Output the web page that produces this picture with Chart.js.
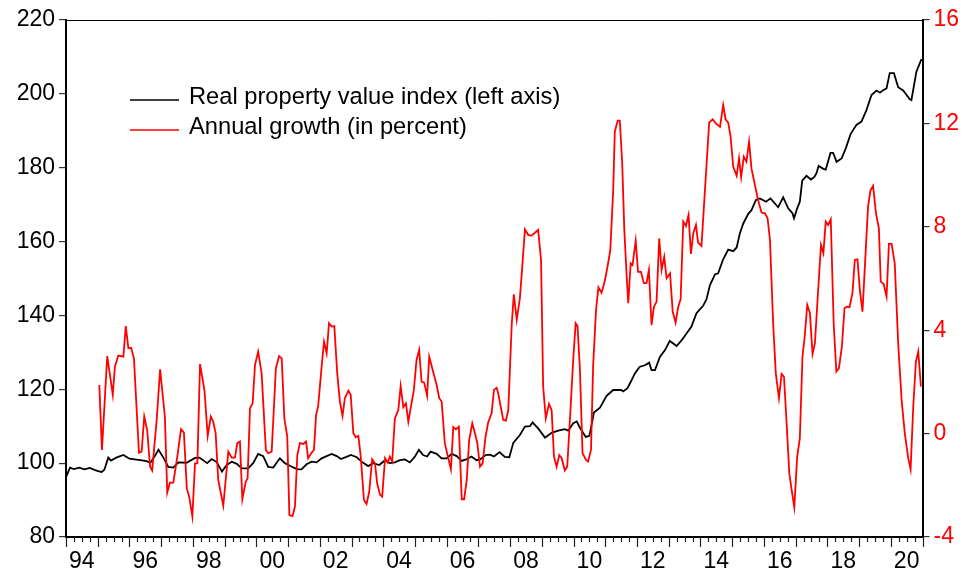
<!DOCTYPE html>
<html>
<head>
<meta charset="utf-8">
<script src="https://cdn.jsdelivr.net/npm/chart.js@4.4.1/dist/chart.umd.min.js"></script>
<style>
html,body{margin:0;padding:0;background:#ffffff;}
canvas{display:block;}
</style>
</head>
<body>
<canvas id="chart" width="968" height="573"></canvas>
<script>
// ---- Data (months counted from January 1994) ----
const indexMonths = [0,1.5,3,5,7,9,11,12.5,13.5,14.5,16,17,19,21.7,24,28,30,32,33.5,35,37,38.7,40.6,42.5,45.6,48.8,50.5,53.4,55.1,57,59,60.8,62.7,64.6,66.5,68.9,70.8,72.7,74.6,76.5,78.4,80.9,82.8,84.7,87.3,89.1,91,92.9,94.8,96.7,98.6,100.5,102.4,104,106.8,107.8,110,111.8,114.3,116.2,118.5,120.7,122.5,124.4,126.3,128.2,130.1,132,133.5,135.1,136.6,137.9,140.2,142.1,144,145.9,147.8,149.7,151.6,153.4,155.3,156.6,158.8,160.4,161.9,164,166,167.7,169.2,171.7,173.6,175.5,176.5,178.6,181.2,183.7,186.2,188.7,190,191.9,193.2,194.4,196.6,198,199.7,202,204.5,207,210,210.8,212.4,213.7,215.2,216.5,217.1,219,220.6,221.5,222.8,224.7,226.6,228.4,231,232.9,234.8,236.6,238.5,241,242.3,243.6,245.5,246.7,248.6,250.5,252.4,253.7,254.9,256.2,258.1,259.3,261,262.5,264.8,266.5,269.4,271.3,273.2,274.8,275.4,276.6,277.6,278.5,280.1,281.8,283.1,283.9,284.7,286.5,287.4,289.2,290.2,291.5,293.4,295,296.8,299,300.9,302.8,304.7,306.6,307.9,309.1,310.4,311.6,313.2,314.8,316.7,319.2,319.8,321.7,323.6];
const indexValues = [96.2,98.8,98.4,98.8,98.3,98.7,98.1,97.8,97.6,98.2,101.5,100.7,101.5,102.2,101.2,100.8,100.6,100.2,101.8,103.6,101.3,99.0,98.8,100.2,100.1,101.4,101.5,100.0,101.1,100.3,97.7,99.5,100.4,99.8,98.6,98.6,100.0,102.5,101.9,99.0,98.8,101.3,100.0,99.3,98.4,98.3,99.7,100.4,100.2,101.3,101.9,102.5,101.9,101.1,101.9,102.2,101.6,100.4,99.2,100.0,99.5,100.8,100.0,100.2,100.8,101.0,100.2,101.8,103.6,102.2,101.8,103.1,102.5,101.3,101.3,102.5,101.9,100.6,101.1,101.8,100.8,101.0,102.2,102.3,101.8,103.0,101.7,101.6,105.5,107.6,109.9,110.0,111.0,109.4,106.9,108.2,108.8,109.2,108.8,110.8,111.3,109.6,107.1,107.4,113.7,115.0,118.2,119.8,119.8,119.4,120.3,122.1,124.3,125.6,126.1,126.5,127.2,125.2,125.2,128.8,130.6,133.1,131.7,133.3,135.2,137.0,140.6,142.6,144.4,148.2,151.1,151.4,155.2,157.8,157.4,158.4,162.2,164.9,167.5,168.5,171.3,171.7,170.8,171.7,169.3,172.0,169.0,167.7,166.3,169.0,170.8,176.5,177.8,176.8,177.5,178.5,180.5,179.7,179.5,184.0,184.0,181.6,182.5,185.3,189.1,191.6,192.5,195.6,199.7,200.9,200.3,201.0,201.5,205.6,205.6,201.8,200.9,198.5,198.3,206.0,209.4];

const growthMonths = [12.6,13.6,15.6,17.7,18.5,19.8,21.7,22.6,23.6,24.6,25.7,27.6,28.6,29.6,30.7,31.8,32.6,34.3,35.6,37.4,38.3,39.3,40.6,42.1,43.5,44.6,45.7,46.6,47.8,48.8,49.7,50.7,52.4,53.6,54.8,55.7,56.6,57.6,59.5,61.4,62.7,63.9,64.8,65.8,66.7,68,68.7,69.6,70.6,71.5,72.7,74,75.6,76.5,77.8,79.4,80.6,81.6,82.6,83.7,84.5,85.7,86.6,87.5,88.5,89.8,90.8,91.6,92.9,93.8,94.6,95.4,96.7,97.6,98.6,99.5,100.5,101.5,102.6,103.6,104.6,105.5,106.8,107.7,108.7,109.6,110.6,111.5,112.7,113.7,114.7,115.8,116.9,117.7,118.8,119.6,120.7,121.7,122.5,123.4,124.4,125.7,126.6,127.6,128.6,129.5,130.7,131.6,132.6,133.6,134.5,135.5,136.6,137.4,138.7,140.2,141.2,142.1,143.3,144.6,145.6,146.5,147.5,148.6,149.7,150.6,151.6,152.5,153.7,154.7,155.6,156.6,157.6,158.7,159.7,161,161.9,162.9,163.5,165.4,166.4,167.3,168.6,169.4,170.5,171.7,172.6,173.6,174.9,176.1,177.4,178.6,179.7,180.5,181.5,182.7,183.7,184.6,185.6,186.6,187.5,188.7,189.6,190.9,191.9,192.8,193.5,194.4,195.4,196.7,197.5,198.6,199.4,200.5,201.4,202.6,203.9,205,205.9,207,207.6,208.7,209.5,210.4,211.2,212.1,212.7,213.6,214.3,215.5,216.4,217.5,218.6,219.6,220.5,221.5,222.4,223.4,224.4,225.3,226.3,227.2,228.5,229.5,230.6,231.6,232.5,233.5,234.5,235.5,236.4,237.3,238.3,239.1,240.4,241.7,243.3,244.6,245.8,247.4,248.6,249.5,250.5,251.4,252.4,253.7,254.6,255.4,256.4,257.4,258.4,259.3,260.6,261.8,263.1,264.4,265.4,266.3,267.5,268.5,269.7,270.7,271.6,272.6,273.6,274.5,275.5,276.6,277.6,278.6,279.5,280.4,281.4,282.4,283.3,284.5,285.6,286.5,287.4,288.3,289.3,290.4,291.4,292.4,293.5,294.5,295.4,296.4,297.5,298.4,299.4,300.3,301.3,302.2,303.4,304.3,305.3,306.4,307.5,308.2,309.3,310.4,311.3,312.3,313.5,314.8,316.1,317.3,318.6,319.5,320.5,321.5,322.4,323.4];
const growthValues = [1.88,-0.63,3.0,1.5,2.59,3.02,2.98,4.16,3.30,3.32,2.91,-0.74,-0.70,0.66,0.14,-1.28,-1.43,0.53,2.49,0.66,-2.28,-1.90,-1.90,-0.89,0.17,0.04,-2.12,-2.44,-3.21,-1.15,-1.15,2.69,1.65,-0.09,0.66,0.46,0.02,-1.79,-2.79,-0.70,-0.93,-0.93,-0.37,-0.31,-2.54,-1.86,-1.73,0.98,1.17,2.66,3.17,2.33,-0.63,-0.76,-0.70,2.53,3.00,2.91,0.59,-0.12,-3.15,-3.19,-2.83,-0.83,-0.37,-0.40,-0.31,-0.95,-0.74,-0.63,0.72,1.07,2.59,3.56,3.11,4.27,4.14,4.16,2.33,1.25,0.68,1.37,1.66,1.50,0.01,-0.14,-0.09,-0.89,-2.57,-2.72,-2.25,-0.99,-1.15,-1.92,-2.37,-2.44,-0.95,-1.12,-0.89,-1.08,0.59,0.91,1.84,1.02,1.17,0.46,1.17,1.69,2.85,3.24,2.01,1.97,1.46,2.98,2.46,1.88,1.37,1.24,-0.37,-0.95,-1.38,0.25,0.17,0.27,-2.54,-2.54,-1.79,-0.25,0.40,0.01,-0.37,-1.28,-1.15,-0.12,0.43,0.79,1.69,1.77,1.56,0.53,0.50,0.91,4.20,5.39,4.40,5.24,6.46,7.90,7.68,7.66,7.77,7.88,6.72,1.82,0.59,1.15,0.91,-0.89,-1.28,-0.83,-0.95,-1.43,-1.28,1.04,2.91,4.27,4.16,2.5,-0.76,-1.02,-1.08,-0.63,2.6,4.78,5.66,5.45,5.94,6.55,7.10,9.42,11.68,12.11,12.11,10.46,7.88,6.07,5.04,6.59,6.52,7.46,6.26,6.26,5.82,5.82,6.33,4.20,4.91,5.10,7.55,6.33,6.84,6.01,6.20,4.72,4.29,4.91,5.20,8.20,8.03,8.46,6.95,7.75,8.07,7.39,7.26,9.42,12.03,12.16,12.00,11.87,12.71,12.16,12.03,11.49,10.33,9.97,10.65,9.92,10.71,10.52,11.29,10.26,9.62,9.04,8.55,8.52,8.33,7.49,4.27,2.33,1.37,2.31,2.20,0.40,-1.53,-2.18,-2.85,-0.89,-0.18,2.98,3.82,4.98,4.68,3.08,3.49,5.50,7.30,6.98,8.20,8.07,8.29,4.27,2.40,2.53,3.36,4.85,4.91,4.89,5.43,6.72,6.74,5.56,4.72,6.46,8.78,9.40,9.58,8.52,7.94,5.88,5.79,5.30,7.34,7.34,6.59,3.49,1.30,0.01,-0.95,-1.38,1.04,2.78,3.17,1.82];

const seriesLabels = ['Real property value index (left axis)', 'Annual growth (in percent)'];
const leftTicks = [80, 100, 120, 140, 160, 180, 200, 220];
const rightTicks = [-4, 0, 4, 8, 12, 16];
const xTickLabels = ['94','96','98','00','02','04','06','08','10','12','14','16','18','20'];
const monthsTotal = 324;

// ---- Styling ----
const FONT = '"Liberation Sans", Arial, sans-serif';
const FSIZE = 23;
const LEGEND_FSIZE = 23.7;
const RED = '#ff0000';
const BLACK = '#000000';

const pairs = (xs, ys) => xs.map((x, i) => ({x: x, y: ys[i]}));

const frameAndTicks = {
  id: 'frameAndTicks',
  afterDraw(chart) {
    const {ctx, chartArea: a, scales} = chart;
    ctx.save();
    // top border
    ctx.strokeStyle = BLACK;
    ctx.lineWidth = 1;
    ctx.beginPath();
    ctx.moveTo(a.left, a.top + 0.5);
    ctx.lineTo(a.right, a.top + 0.5);
    ctx.stroke();
    // x-axis tick marks: quarters (minor) and years (major)
    const xs = scales.x;
    ctx.strokeStyle = '#222';
    ctx.lineWidth = 1.2;
    for (let m = 0; m <= monthsTotal; m += 3) {
      const px = Math.round(xs.getPixelForValue(m)) + 0.5;
      const len = (m % 12 === 0) ? 10 : 5;
      ctx.beginPath();
      ctx.moveTo(px, a.bottom);
      ctx.lineTo(px, a.bottom + len);
      ctx.stroke();
    }
    // legend (inside plot area)
    ctx.font = LEGEND_FSIZE + 'px ' + FONT;
    ctx.textBaseline = 'middle';
    ctx.textAlign = 'left';
    chart.data.datasets.forEach((ds, i) => {
      const y = a.top + 77 + i * 30;
      ctx.strokeStyle = ds.borderColor;
      ctx.lineWidth = 1.6;
      ctx.beginPath();
      ctx.moveTo(a.left + 64, y + 3);
      ctx.lineTo(a.left + 113, y + 3);
      ctx.stroke();
      ctx.fillStyle = BLACK;
      ctx.fillText(ds.label, a.left + 123, y);
    });
    ctx.restore();
  }
};

new Chart(document.getElementById('chart'), {
  type: 'line',
  data: {
    datasets: [
      {
        label: seriesLabels[0],
        data: pairs(indexMonths, indexValues),
        yAxisID: 'y',
        borderColor: BLACK,
        borderWidth: 1.8,
        pointRadius: 0,
        tension: 0,
        fill: false,
        order: 1
      },
      {
        label: seriesLabels[1],
        data: pairs(growthMonths, growthValues),
        yAxisID: 'y1',
        borderColor: RED,
        borderWidth: 1.8,
        pointRadius: 0,
        tension: 0,
        fill: false,
        order: 0
      }
    ]
  },
  options: {
    responsive: false,
    animation: false,
    devicePixelRatio: 1,
    layout: {padding: {top: 20, left: 0, right: 0, bottom: 0}},
    plugins: {legend: {display: false}, tooltip: {enabled: false}},
    scales: {
      x: {
        type: 'linear',
        min: 0,
        max: monthsTotal,
        afterBuildTicks: s => { s.ticks = xTickLabels.map((l, i) => ({value: i * 24})); },
        afterFit: s => { s.height = 36; },
        ticks: {
          autoSkip: false,
          maxRotation: 0,
          minRotation: 0,
          labelOffset: 15.86,
          padding: 1,
          color: BLACK,
          font: {family: FONT, size: FSIZE},
          callback: (v, i) => xTickLabels[i]
        },
        grid: {display: false, drawTicks: true, tickLength: 10},
        border: {display: true, color: BLACK, width: 2}
      },
      y: {
        type: 'linear',
        position: 'left',
        min: 80,
        max: 220,
        afterBuildTicks: s => { s.ticks = leftTicks.map(v => ({value: v})); },
        afterFit: s => { s.width = 66; },
        ticks: {color: BLACK, padding: 4, font: {family: FONT, size: FSIZE}},
        grid: {display: true, drawOnChartArea: false, tickLength: 7, color: '#333', lineWidth: 1.2},
        border: {display: true, color: BLACK, width: 2}
      },
      y1: {
        type: 'linear',
        position: 'right',
        min: -4,
        max: 16,
        afterBuildTicks: s => { s.ticks = rightTicks.map(v => ({value: v})); },
        afterFit: s => { s.width = 45.5; },
        ticks: {color: RED, padding: 4, font: {family: FONT, size: FSIZE}},
        grid: {display: true, drawOnChartArea: false, tickLength: 7, color: '#333', lineWidth: 1.2},
        border: {display: true, color: BLACK, width: 2}
      }
    }
  },
  plugins: [frameAndTicks]
});
</script>
</body>
</html>
